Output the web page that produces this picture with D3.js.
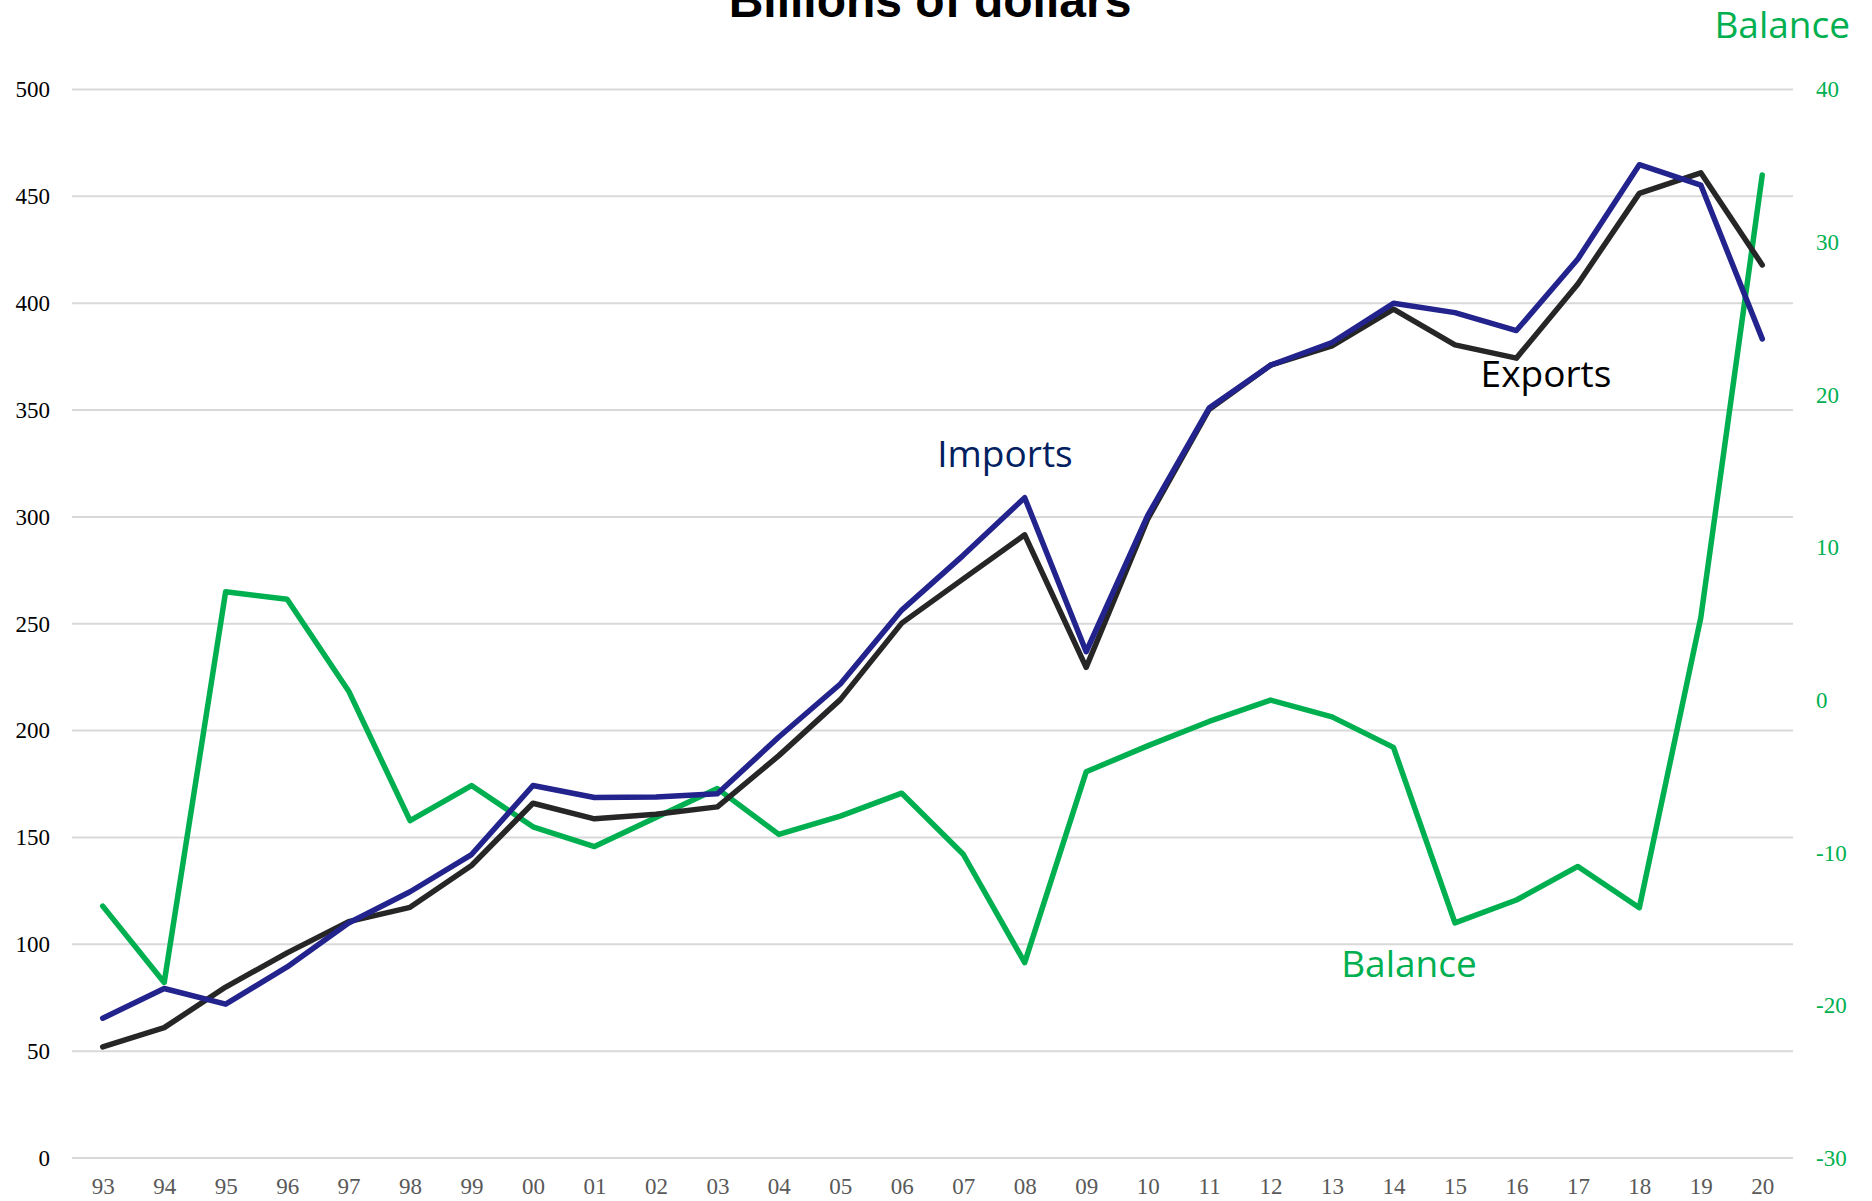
<!DOCTYPE html>
<html>
<head>
<meta charset="utf-8">
<script src="https://cdn.jsdelivr.net/npm/d3@7"></script>
<style>
  body { margin: 0; background: #fff; }
  svg { display: block; }
</style>
</head>
<body>
<script>
var years = ["93","94","95","96","97","98","99","00","01","02","03","04","05","06",
             "07","08","09","10","11","12","13","14","15","16","17","18","19","20"];

var importsData = [65.4, 79.3, 72, 89.4, 110, 124.6, 142, 174.3, 168.7, 168.9, 170.4, 197, 221.8, 256.4,
               282, 309, 236.9, 300.6, 350.9, 371, 381.6, 400, 395.6, 387.2, 420.7, 464.8, 455.3, 383.3];

var exportsData = [52, 61, 80, 96, 110.6, 117.3, 136.9, 166, 158.7, 160.9, 164.3, 188.3, 214.5, 250.3,
               271, 291.6, 229.6, 298.9, 350.3, 371, 380, 397.2, 380.5, 374.3, 409, 451.4, 461, 417.9];

var balanceData = [-13.5, -18.5, 7.1, 6.6, 0.6, -7.9, -5.6, -8.3, -9.6, -7.7, -5.8, -8.8, -7.6, -6.1,
               -10.1, -17.2, -4.7, -3.0, -1.4, 0, -1.1, -3.1, -14.6, -13.1, -10.9, -13.6, 5.4, 34.4];

var leftTicks = [0, 50, 100, 150, 200, 250, 300, 350, 400, 450, 500];
var rightTicks = [-30, -20, -10, 0, 10, 20, 30, 40];

var W = 1872, H = 1201;
var svg = d3.select("body").append("svg")
    .attr("width", W)
    .attr("height", H);

var plotLeft = 72, plotRight = 1793, plotTop = 89.5, plotBottom = 1158;

var x = d3.scalePoint()
    .domain(years)
    .range([plotLeft, plotRight])
    .padding(0.5);

var y = d3.scaleLinear()
    .domain([0, 500])
    .range([plotBottom, plotTop]);

var y2 = d3.scaleLinear()
    .domain([-30, 40])
    .range([plotBottom, plotTop]);

// gridlines
svg.append("g")
  .selectAll("line")
  .data(leftTicks)
  .enter().append("line")
    .attr("x1", plotLeft)
    .attr("x2", plotRight)
    .attr("y1", function(d) { return y(d); })
    .attr("y2", function(d) { return y(d); })
    .style("stroke", "#d9d9d9")
    .style("stroke-width", 2);

// left axis
var yAxis = svg.append("g")
    .attr("transform", "translate(" + 50 + ",0)")
    .call(d3.axisLeft(y).tickValues(leftTicks).tickSize(0).tickPadding(0));
yAxis.select(".domain").remove();
yAxis.selectAll("text")
    .style("font-family", "'Liberation Serif', serif")
    .style("font-size", "23px")
    .style("fill", "#000");

// right axis (plain hyphen for negatives)
var y2Axis = svg.append("g")
    .attr("transform", "translate(" + 1816 + ",0)")
    .call(d3.axisRight(y2).tickValues(rightTicks).tickSize(0).tickPadding(0)
      .tickFormat(function(d) { return String(d); }));
y2Axis.select(".domain").remove();
y2Axis.selectAll("text")
    .style("font-family", "'Liberation Serif', serif")
    .style("font-size", "23px")
    .style("fill", "#00b050");

// bottom axis
var xAxis = svg.append("g")
    .attr("transform", "translate(0," + 1178 + ")")
    .call(d3.axisBottom(x).tickSize(0).tickPadding(0));
xAxis.select(".domain").remove();
xAxis.selectAll("text")
    .style("font-family", "'Liberation Serif', serif")
    .style("font-size", "23px")
    .style("fill", "#595959");

var lineLeft = d3.line()
    .x(function(d, i) { return x(years[i]); })
    .y(function(d) { return y(d); });

var lineRight = d3.line()
    .x(function(d, i) { return x(years[i]); })
    .y(function(d) { return y2(d); });

svg.append("path")
    .datum(balanceData)
    .attr("d", lineRight)
    .style("fill", "none")
    .style("stroke", "#00b050")
    .style("stroke-width", 5.5)
    .style("stroke-linecap", "round")
    .style("stroke-linejoin", "round");

svg.append("path")
    .datum(exportsData)
    .attr("d", lineLeft)
    .style("fill", "none")
    .style("stroke", "#262626")
    .style("stroke-width", 5.5)
    .style("stroke-linecap", "round")
    .style("stroke-linejoin", "round");

svg.append("path")
    .datum(importsData)
    .attr("d", lineLeft)
    .style("fill", "none")
    .style("stroke", "#23238e")
    .style("stroke-width", 5.5)
    .style("stroke-linecap", "round")
    .style("stroke-linejoin", "round");

// title (cut off at top edge, as in the source)
svg.append("text")
    .attr("x", 930)
    .attr("y", 17)
    .attr("text-anchor", "middle")
    .style("font-family", "'Liberation Sans', Arial, sans-serif")
    .style("font-weight", "bold")
    .style("font-size", "48px")
    .text("Billions of dollars");

// series labels
var labels = [
  { t: "Imports", x: 1005, y: 467, c: "#002060", a: "middle" },
  { t: "Exports", x: 1546, y: 387, c: "#000000", a: "middle" },
  { t: "Balance", x: 1409, y: 977, c: "#00b050", a: "middle" },
  { t: "Balance", x: 1850, y: 38, c: "#00b050", a: "end" }
];
svg.selectAll(".lbl")
  .data(labels)
  .enter().append("text")
    .attr("class", "lbl")
    .attr("x", function(d) { return d.x; })
    .attr("y", function(d) { return d.y; })
    .attr("text-anchor", function(d) { return d.a; })
    .style("font-family", "'Open Sans', sans-serif")
    .style("font-size", "37px")
    .style("fill", function(d) { return d.c; })
    .text(function(d) { return d.t; });
</script>
</body>
</html>
